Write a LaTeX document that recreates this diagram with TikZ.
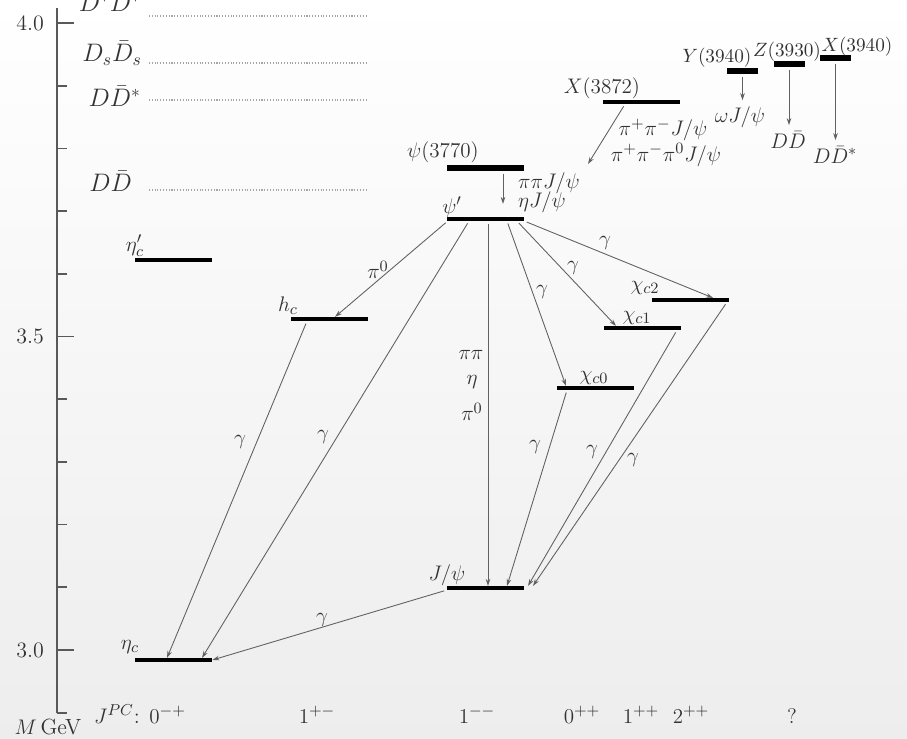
\documentclass[tikz,border=0pt]{standalone}
\usepackage{amsmath}
\usetikzlibrary{arrows.meta}

\tikzset{
  lvl/.style={fill=black, inner sep=0pt, minimum width=1.54cm, minimum height=0.07cm},
  lvlthick/.style={lvl, minimum height=0.13cm},
  newlvl/.style={fill=black, inner sep=0pt, minimum width=0.62cm, minimum height=0.11cm},
  decay/.style={-{Stealth[length=4pt,width=2.6pt]}, draw=black!62, line width=0.5pt, shorten <=1.5pt},
  thresh/.style={draw=black!35, densely dotted, line width=0.6pt},
  axisline/.style={draw=black!65, line width=1pt},
  thrlabel/.style={font=\fontsize{14}{16}\selectfont},
  newlabel/.style={font=\fontsize{11}{13}\selectfont}
}

\begin{document}
\begin{tikzpicture}[font=\fontsize{12.5}{15}\selectfont, every node/.append style={text=black!80}]
			\useasboundingbox (0,0) rectangle (18.14,14.76);
			\shade[top color=white,bottom color=black!7] (0,0) rectangle (18.14,14.76);

			% mass axis
			\draw[axisline] (1.14,0.506) -- (1.14,14.6);
			\foreach \m in {0,...,11}
				\draw[axisline] (1.14,0.506+\m*1.254) -- ++(0.2,0);
			\foreach \m/\lab in {1/3.0,6/3.5,11/4.0}{
				\draw[axisline] (1.14,0.506+\m*1.254) -- ++(0.34,0);
				\node[anchor=east] (tick\m) at (1.0,0.506+\m*1.254) {\lab};
			}
			\node[anchor=base] (munit) at (0.96,0.06) {$M$\,GeV};

			% thresholds
			\draw[thresh] (2.98,14.44) -- (7.34,14.44);
			\draw[thresh] (2.98,13.50) -- (7.34,13.50);
			\draw[thresh] (2.98,12.76) -- (7.34,12.76);
			\draw[thresh] (2.98,10.96) -- (7.34,10.96);
			\node[thrlabel,anchor=base east] (thDsDs) at (2.94,14.52) {$D^*\bar D^*$};
			\node[thrlabel,anchor=base east] (thDsDsb) at (2.96,13.52) {$D_s\bar D_s$};
			\node[thrlabel,anchor=base east] (thDDs) at (2.94,12.62) {$D\bar D^*$};
			\node[thrlabel,anchor=base east] (thDD) at (2.76,10.92) {$D\bar D$};

			% levels
			\node[lvl] (etac) at (3.47,1.56) {};
			\node[lvl] (etacp) at (3.47,9.56) {};
			\node[lvl] (hc) at (6.59,8.38) {};
			\node[lvl] (jpsi) at (9.71,3.00) {};
			\node[lvl] (psip) at (9.71,10.38) {};
			\node[lvlthick] (psi3770) at (9.71,11.40) {};
			\node[lvl] (chi0) at (11.91,7.00) {};
			\node[lvl] (chi1) at (12.85,8.20) {};
			\node[lvl] (chi2) at (13.81,8.76) {};
			\node[lvl] (x3872) at (12.83,12.72) {};
			\node[newlvl] (y3940) at (14.85,13.34) {};
			\node[newlvl] (z3930) at (15.78,13.48) {};
			\node[newlvl] (x3940) at (16.71,13.60) {};

			\node (etacL) at (2.60,1.82) {$\eta_c$};
			\node (etacpL) at (2.70,9.84) {$\eta_c'$};
			\node (hcL) at (5.76,8.64) {$h_c$};
			\node (jpsiL) at (8.94,3.26) {$J/\psi$};
			\node (psipL) at (9.04,10.62) {$\psi'$};
			\node (psi3770L) at (8.86,11.72) {$\psi(3770)$};
			\node (chi0L) at (11.88,7.20) {$\chi_{c0}$};
			\node (chi1L) at (12.74,8.40) {$\chi_{c1}$};
			\node (chi2L) at (12.90,9.00) {$\chi_{c2}$};
			\node (x3872L) at (12.04,13.00) {$X(3872)$};
			\node[newlabel] (y3940L) at (14.34,13.60) {$Y(3940)$};
			\node[newlabel] (z3930L) at (15.74,13.72) {$Z(3930)$};
			\node[newlabel] (x3940L) at (17.14,13.82) {$X(3940)$};

			% decay products of the states above threshold
			\node[anchor=west] (pipijpsi) at (10.24,11.10) {$\pi\pi J/\psi$};
			\node[anchor=west] (etajpsi) at (10.24,10.72) {$\eta J/\psi$};
			\node (pipmjpsi) at (13.26,12.16) {$\pi^+\pi^- J/\psi$};
			\node (pipmpi0jpsi) at (13.32,11.66) {$\pi^+\pi^-\pi^0 J/\psi$};
			\node (omegajpsi) at (14.80,12.42) {$\omega J/\psi$};
			\node (zdd) at (15.76,11.96) {$D\bar D$};
			\node (xdds) at (16.70,11.66) {$D\bar D^*$};
			\coordinate (xend) at (11.76,11.48);

			\draw[decay,shorten >=0.26cm] ([xshift=0.35cm]psi3770.south) -- ([xshift=0.35cm]psip.north);
			\draw[decay] ([xshift=-0.33cm]x3872.south) -- (xend);
			\draw[decay] (y3940.south) -- (y3940.south |- omegajpsi.north);
			\draw[decay] (z3930.south) -- (z3930.south |- zdd.north);
			\draw[decay] (x3940.south) -- (x3940.south |- xdds.north);

			% transitions
			\draw[decay] ([xshift=0.02cm]psip.south west) -- ([xshift=0.11cm]hc.north);
			\draw[decay] ([xshift=-0.33cm]psip.south) -- ([xshift=0.57cm]etac.north);
			\draw[decay] ([xshift=-0.45cm]hc.south) -- ([xshift=-0.13cm]etac.north);
			\draw[decay] ([xshift=0.05cm]psip.south) -- ([xshift=0.05cm]jpsi.north);
			\draw[decay] ([xshift=0.43cm]psip.south) -- ([xshift=-0.59cm]chi0.north);
			\draw[decay] ([xshift=0.63cm]psip.south) -- ([xshift=-0.53cm]chi1.north);
			\draw[decay] (psip.south east) -- ([xshift=0.45cm]chi2.north);
			\draw[decay] ([xshift=-0.57cm]chi0.south) -- ([xshift=0.43cm]jpsi.north);
			\draw[decay] ([xshift=0.69cm]chi1.south) -- ([xshift=0.85cm]jpsi.north);
			\draw[decay] ([xshift=0.73cm]chi2.south) -- ([xshift=0.95cm]jpsi.north);
			\draw[decay] (jpsi.south west) -- (etac.east);

			\node (pi0hc) at (7.56,9.36) {$\pi^0$};
			\node (gchi0) at (10.84,8.92) {$\gamma$};
			\node (gchi1) at (11.46,9.40) {$\gamma$};
			\node (gchi2) at (12.10,9.90) {$\gamma$};
			\node (pipi) at (9.42,7.66) {$\pi\pi$};
			\node (eta) at (9.44,7.12) {$\eta$};
			\node (pi0) at (9.44,6.52) {$\pi^0$};
			\node (ghc) at (4.80,5.92) {$\gamma$};
			\node (gpsip) at (6.46,6.02) {$\gamma$};
			\node (gchi0j) at (10.70,5.82) {$\gamma$};
			\node (gchi1j) at (11.84,5.72) {$\gamma$};
			\node (gchi2j) at (12.66,5.56) {$\gamma$};
			\node (gjpsi) at (6.44,2.36) {$\gamma$};

			% J^PC row
			\node[anchor=base] (jpc0) at (2.80,0.30) {$J^{PC}$: $0^{-+}$};
			\foreach \x/\jpc [count=\i] in {6.34/{1^{+-}},9.54/{1^{--}},11.64/{0^{++}},12.82/{1^{++}},13.82/{2^{++}},15.84/{?}}
				\node[anchor=base] (jpc\i) at (\x,0.30) {$\jpc$};

			% \draw[help lines,step=1] (0,0) grid (18,14);
		\end{tikzpicture}
\end{document}
